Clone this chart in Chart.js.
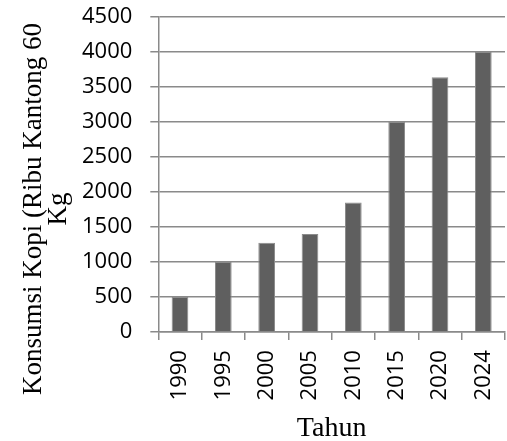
<!DOCTYPE html>
<html>
<head>
<meta charset="utf-8">
<script src="https://cdn.jsdelivr.net/npm/chart.js@4/dist/chart.umd.min.js"></script>
<style>
  html, body { margin: 0; padding: 0; background: #fff; }
  #wrap { width: 507px; height: 441px; position: relative; }
</style>
</head>
<body>
<div id="wrap"><canvas id="c"></canvas></div>
<script>
// Coffee consumption per year (thousand 60 kg bags)
const years = ['1990', '1995', '2000', '2005', '2010', '2015', '2020', '2024'];
const consumption = [500, 1000, 1275, 1400, 1850, 3000, 3640, 4000];
const yTicks = [0, 500, 1000, 1500, 2000, 2500, 3000, 3500, 4000, 4500];
const yTitleLines = ['Konsumsi Kopi (Ribu Kantong 60', 'Kg'];
const xTitle = 'Tahun';

const gridColor = '#8a8a8a';
const serif = '"Liberation Serif", "Times New Roman", serif';
const tickFont = { family: '"Open Sans", sans-serif', size: 22 };
const yTitleSize = 27;
const xTitleSize = 28;

// Two-line vertical axis title, centred along the left edge
const yTitlePlugin = {
  id: 'yTitle',
  afterDraw(chart) {
    const ctx = chart.ctx;
    ctx.save();
    ctx.fillStyle = '#000';
    ctx.font = yTitleSize + 'px ' + serif;
    ctx.textAlign = 'center';
    ctx.textBaseline = 'alphabetic';
    const centerY = 209;
    const baselines = [41, 66];
    yTitleLines.forEach((line, i) => {
      ctx.save();
      ctx.translate(baselines[i], centerY);
      ctx.rotate(-Math.PI / 2);
      ctx.fillText(line, 0, 0);
      ctx.restore();
    });
    ctx.restore();
  }
};

// Let the outer layout padding alone decide where the plot area sits
const noEdgePadding = scale => {
  scale.paddingTop = 0;
  scale.paddingBottom = 0;
  scale.paddingLeft = 0;
  scale.paddingRight = 0;
};

new Chart(document.getElementById('c'), {
  type: 'bar',
  data: {
    labels: years,
    datasets: [{
      data: consumption,
      backgroundColor: '#5f5f5f',
      borderColor: '#8c8c8c',
      borderWidth: 1,
      categoryPercentage: 1,
      barPercentage: 0.385
    }]
  },
  options: {
    responsive: true,
    maintainAspectRatio: false,
    animation: false,
    devicePixelRatio: 1,
    layout: { padding: { left: 64, right: 2, top: 17, bottom: -4 } },
    plugins: {
      legend: { display: false },
      tooltip: { enabled: false }
    },
    scales: {
      x: {
        offset: true,
        afterFit: noEdgePadding,
        grid: {
          offset: true,
          drawOnChartArea: false,
          drawTicks: true,
          tickLength: 8,
          color: gridColor,
          lineWidth: 1.5
        },
        border: { color: gridColor, width: 1.5 },
        ticks: {
          color: '#000',
          font: tickFont,
          minRotation: 90,
          maxRotation: 90,
          padding: 10
        },
        title: {
          display: true,
          text: xTitle,
          color: '#000',
          font: { family: serif, size: xTitleSize },
          padding: { top: 1, bottom: 0 }
        }
      },
      y: {
        min: 0,
        max: 4500,
        afterFit: noEdgePadding,
        afterBuildTicks(scale) {
          scale.ticks = yTicks.map(v => ({ value: v }));
        },
        grid: {
          color: gridColor,
          lineWidth: 1.5,
          tickLength: 8
        },
        border: { color: gridColor, width: 1.5 },
        ticks: {
          color: '#000',
          font: tickFont,
          padding: 18,
          callback: v => String(v)
        }
      }
    }
  },
  plugins: [yTitlePlugin]
});
</script>
</body>
</html>
